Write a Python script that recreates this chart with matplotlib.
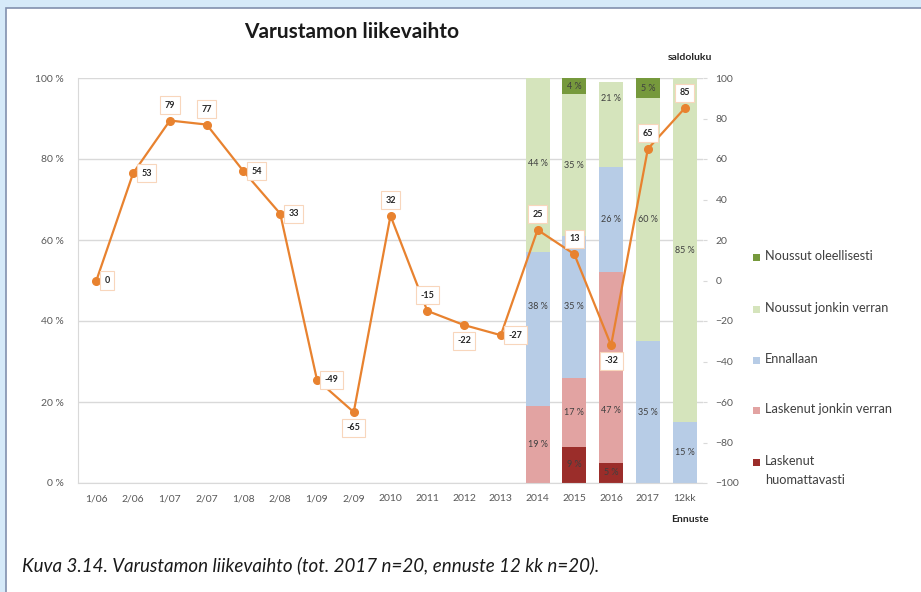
import numpy as np
import matplotlib.pyplot as plt
from matplotlib.patches import Rectangle

plt.rcParams['font.family'] = ['Lato', 'DejaVu Sans']

categories = ['1/06', '2/06', '1/07', '2/07', '1/08', '2/08', '1/09', '2/09', '2010',
              '2011', '2012', '2013', '2014', '2015', '2016', '2017', '12kk']
saldo = [0, 53, 79, 77, 54, 33, -49, -65, 32, -15, -22, -27, 25, 13, -32, 65, 85]
label_pos = ['r', 'r', 'u', 'u', 'r', 'r', 'r', 'd', 'u', 'u', 'd', 'r', 'u', 'u', 'd', 'u', 'u']

bar_years = ['2014', '2015', '2016', '2017', '12kk']
series_names = ['Laskenut\nhuomattavasti', 'Laskenut jonkin verran', 'Ennallaan',
                'Noussut jonkin verran', 'Noussut oleellisesti']
series_vals = [
    [0, 9, 5, 0, 0],
    [19, 17, 47, 0, 0],
    [38, 35, 26, 35, 15],
    [44, 35, 21, 60, 85],
    [0, 4, 0, 5, 0],
]
colors = ['#9B2D2A', '#E2A3A2', '#B7CCE6', '#D5E4BC', '#76993C']
# data labels that Excel moved away from the segment centre (year, series index): y in %
label_moves = {('2014', 2): 43.5, ('2016', 1): 18, ('2016', 3): 95}

fig = plt.figure(figsize=(9.21, 5.92), dpi=100)
fig.patch.set_facecolor('#D6EAF9')
fig.patches.append(Rectangle((6 / 921, -0.1), 1.1, 1.1 - 8 / 592, transform=fig.transFigure,
                             facecolor='white', edgecolor='#8190AE', lw=1.2, zorder=-5))

ax = fig.add_axes([78 / 921, 1 - 483 / 592, 625 / 921, 405 / 592])
ax.set_facecolor('none')
x = np.arange(len(categories))
xb = [categories.index(y) for y in bar_years]

bottom = np.zeros(len(bar_years))
for si, (vals, col) in enumerate(zip(series_vals, colors)):
    v = np.array(vals, dtype=float)
    ax.bar(xb, v / 100, bottom=bottom / 100, width=0.65, color=col, zorder=2)
    for yr, xi, b, vi in zip(bar_years, xb, bottom, v):
        if vi > 0:
            yl = label_moves.get((yr, si), b + vi / 2)
            ax.text(xi, yl / 100, f'{int(vi)} %', ha='center', va='center',
                    fontsize=6.5, color='#404040', zorder=3)
    bottom += v

ax.set_xlim(-0.5, len(categories) - 0.5)
ax.set_ylim(0, 1)
ax.set_yticks(np.arange(0, 1.01, 0.2))
ax.set_yticklabels([f'{int(round(t * 100))} %' for t in np.arange(0, 1.01, 0.2)])
ax.set_xticks(x)
ax.set_xticklabels(categories)
ax.tick_params(axis='both', length=0, labelsize=7.5, colors='#595959')
ax.tick_params(axis='y', pad=10)
ax.tick_params(axis='x', pad=8)
ax.grid(axis='y', color='#D9D9D9', lw=1, zorder=0)
for s in ['top', 'right']:
    ax.spines[s].set_visible(False)
ax.spines['left'].set_color('#D9D9D9')
ax.spines['bottom'].set_color('#D9D9D9')

ax2 = ax.twinx()
ax2.set_ylim(-100, 100)
ax2.set_yticks(np.arange(-100, 101, 20))
ax2.tick_params(axis='y', length=3, labelsize=7.5, colors='#595959', pad=6)
ax2.tick_params(axis='y', color='#D9D9D9')
for s in ['top', 'right', 'left', 'bottom']:
    ax2.spines[s].set_visible(False)
ax2.plot(x, saldo, color='#E8822F', lw=1.6, marker='o', ms=5.5, zorder=4)

offsets = {'r': ((8, 0), 'left', 'center'), 'u': ((0, 11), 'center', 'bottom'),
           'd': ((0, -11), 'center', 'top')}
for xi, v, p in zip(x, saldo, label_pos):
    off, ha, va = offsets[p]
    ax2.annotate(str(v), (xi, v), xytext=off, textcoords='offset pixels', ha=ha, va=va,
                 fontsize=6.5, fontweight='bold', color='#262626', zorder=5,
                 bbox=dict(boxstyle='square,pad=0.5', fc='white', ec='#F8D6BC', lw=0.8))

fig.text(352 / 921, 1 - 32 / 592, 'Varustamon liikevaihto', ha='center', va='center',
         fontsize=15, fontweight='bold', color='#1a1a1a')
fig.text(690 / 921, 1 - 58 / 592, 'saldoluku', ha='center', va='center', fontsize=7.5,
         fontweight='bold', color='#262626')
fig.text(690 / 921, 1 - 519 / 592, 'Ennuste', ha='center', va='center', fontsize=7.5,
         fontweight='bold', color='#262626')

leg_y = [257, 309, 360, 410, 462]
for yy, name, col in zip(leg_y, series_names[::-1], colors[::-1]):
    fig.patches.append(Rectangle((753 / 921, 1 - (yy + 3.5) / 592), 7 / 921, 7 / 592,
                                 transform=fig.transFigure, facecolor=col, edgecolor='none'))
    fig.text(765 / 921, 1 - (yy - 7) / 592, name, ha='left', va='top', fontsize=9.2,
             color='#404040', linespacing=1.75)

fig.text(22 / 921, 1 - 565 / 592,
         'Kuva 3.14. Varustamon liikevaihto (tot. 2017 n=20, ennuste 12 kk n=20).',
         ha='left', va='center', fontsize=13.5, style='italic', color='#1a1a1a')

fig.savefig('out.png', dpi=100, facecolor=fig.get_facecolor())
